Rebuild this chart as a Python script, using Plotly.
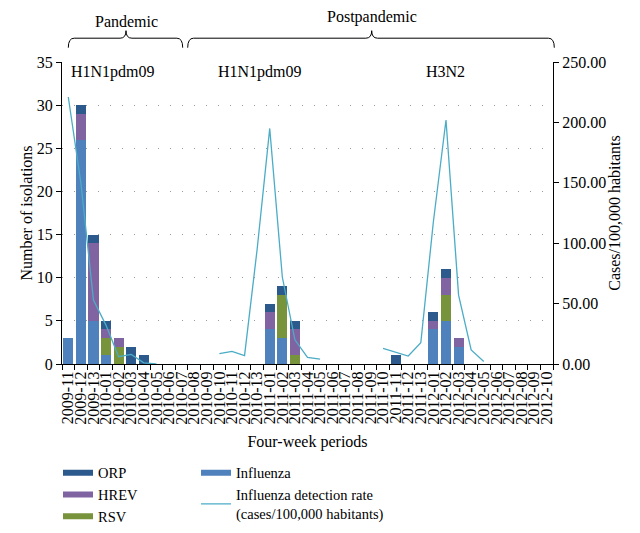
import plotly.graph_objects as go

periods = (["2009-11", "2009-12", "2009-13"]
           + [f"2010-{i:02d}" for i in range(1, 14)]
           + [f"2011-{i:02d}" for i in range(1, 14)]
           + [f"2012-{i:02d}" for i in range(1, 11)])

influenza = [3, 26, 5, 1, 0, 0, 0, 0, 0, 0, 0, 0, 0, 0, 0, 0,
             4, 3, 0, 0, 0, 0, 0, 0, 0, 0, 0, 0, 0,
             4, 5, 2, 0, 0, 0, 0, 0, 0, 0]
rsv = [0, 0, 0, 2, 2, 0, 0, 0, 0, 0, 0, 0, 0, 0, 0, 0,
       0, 5, 1, 0, 0, 0, 0, 0, 0, 0, 0, 0, 0,
       0, 3, 0, 0, 0, 0, 0, 0, 0, 0]
hrev = [0, 3, 9, 1, 1, 0, 0, 0, 0, 0, 0, 0, 0, 0, 0, 0,
        2, 0, 3, 0, 0, 0, 0, 0, 0, 0, 0, 0, 0,
        1, 2, 1, 0, 0, 0, 0, 0, 0, 0]
orp = [0, 1, 1, 1, 0, 2, 1, 0, 0, 0, 0, 0, 0, 0, 0, 0,
       1, 1, 1, 0, 0, 0, 0, 0, 0, 0, 1, 0, 0,
       1, 1, 0, 0, 0, 0, 0, 0, 0, 0]
rate = [221, 150, 53, 32, 6, 8, 1, 0, None, None, None, None,
        8.5, 10.4, 6.9, 95, 195, 72, 20, 5.5, 4, None, None, None, None,
        13, 10, 6.6, 17.6, 118, 202, 57, 11.6, 2, None, None, None, None, None]

C_INF = "#4F81BD"
C_RSV = "#77933C"
C_HREV = "#8064A2"
C_ORP = "#2C5A8C"
C_LINE = "#4BACC6"
FONT = "Liberation Serif, Times New Roman, serif"

fig = go.Figure()
for name, vals, col in [("Influenza", influenza, C_INF), ("RSV", rsv, C_RSV),
                        ("HREV", hrev, C_HREV), ("ORP", orp, C_ORP)]:
    fig.add_trace(go.Bar(x=periods, y=vals, name=name, marker=dict(color=col, line=dict(width=0)),
                         showlegend=False))

fig.add_trace(go.Scatter(x=periods, y=rate, mode="lines", yaxis="y2",
                         line=dict(color=C_LINE, width=1.3), connectgaps=False,
                         showlegend=False))

# legend proxies
for name, col, lg in [("RSV", C_RSV, "legend"), ("HREV", C_HREV, "legend"), ("ORP", C_ORP, "legend")]:
    fig.add_trace(go.Scatter(x=[None], y=[None], mode="lines", name=name,
                             line=dict(color=col, width=6), legend=lg))
fig.add_trace(go.Scatter(x=[None], y=[None], mode="lines", name="Influenza",
                         line=dict(color=C_INF, width=6), legend="legend2"))
fig.add_trace(go.Scatter(x=[None], y=[None], mode="lines",
                         name="Influenza detection rate<br>(cases/100,000 habitants)",
                         line=dict(color=C_LINE, width=1.3), legend="legend2"))

# page offset of the figure div (default body margin)
OFF = 8
W, H = 640 - OFF, 533 - OFF
# plot area in page pixels
L, R, T, B = 62, 553, 62.3, 364.3

def px2paper_x(px):
    return (px - L) / (R - L)

def px2paper_y(py):
    return (B - py) / (B - T)

def bracket(x0, x1, xc, yh, ye, yt, r=0.012):
    return (f"M {x0},{ye} Q {x0},{yh} {x0+r},{yh} L {xc-r},{yh} Q {xc},{yh} {xc},{yt} "
            f"Q {xc},{yh} {xc+r},{yh} L {x1-r},{yh} Q {x1},{yh} {x1},{ye}")

yh = px2paper_y(38.5)
ye = px2paper_y(48)
yt = px2paper_y(31)
shapes = [
    dict(type="path", xref="paper", yref="paper",
         path=bracket(px2paper_x(68.3), px2paper_x(182.7), px2paper_x(126), yh, ye, yt),
         line=dict(color="black", width=1)),
    dict(type="path", xref="paper", yref="paper",
         path=bracket(px2paper_x(187.7), px2paper_x(554.3), px2paper_x(371.7), yh, ye, yt),
         line=dict(color="black", width=1)),
]

def ann(text, px, py):
    return dict(text=text, x=px2paper_x(px), y=px2paper_y(py), xref="paper", yref="paper",
                xanchor="center", yanchor="middle", showarrow=False, font=dict(size=16))

annotations = [
    ann("Pandemic", 126, 21.5),
    ann("Postpandemic", 371.7, 17),
    ann("H1N1pdm09", 113, 72),
    ann("H1N1pdm09", 260, 72),
    ann("H3N2", 445.5, 72),
]

fig.update_layout(
    width=W, height=H,
    margin=dict(l=L - OFF, r=640 - R, t=T - OFF, b=533 - B, autoexpand=False),
    paper_bgcolor="white", plot_bgcolor="white",
    font=dict(family=FONT, color="black", size=16),
    barmode="stack", bargap=0.2,
    shapes=shapes, annotations=annotations,
    xaxis=dict(type="category", categoryorder="array", categoryarray=periods,
               tickmode="array", tickvals=periods, ticktext=periods,
               range=[-0.5, len(periods) - 0.5], automargin=False,
               tickangle=-90, tickson="boundaries", ticks="outside", ticklen=5,
               tickcolor="black", showline=True, linecolor="black", linewidth=1,
               showgrid=False, tickfont=dict(size=16),
               title=dict(text="Four-week periods", font=dict(size=16), standoff=12)),
    yaxis=dict(range=[0, 35], dtick=5, ticks="outside", ticklen=5, tickcolor="black",
               showline=True, linecolor="black", linewidth=1, automargin=False,
               showgrid=True, gridcolor="#9a9a9a", griddash="1px,11px", gridwidth=1,
               zeroline=False, tickfont=dict(size=16),
               title=dict(text="Number of isolations", font=dict(size=16), standoff=0)),
    yaxis2=dict(range=[0, 250], tickvals=[0, 50, 100, 150, 200, 250], tickformat=".2f",
                overlaying="y", side="right", ticks="outside", ticklen=5, tickcolor="black",
                showline=True, linecolor="black", linewidth=1, showgrid=False, zeroline=False,
                tickfont=dict(size=16), automargin=False,
                title=dict(text="Cases/100,000 habitants", font=dict(size=16), standoff=2)),
    legend=dict(x=px2paper_x(58), y=px2paper_y(457), xanchor="left", yanchor="top",
                traceorder="reversed", font=dict(size=14.5), bgcolor="rgba(0,0,0,0)",
                itemwidth=30, tracegroupgap=0),
    legend2=dict(x=px2paper_x(196), y=px2paper_y(457), xanchor="left", yanchor="top",
                 traceorder="normal", font=dict(size=14.5), bgcolor="rgba(0,0,0,0)",
                 itemwidth=30),
)

fig.write_html("out.html")
